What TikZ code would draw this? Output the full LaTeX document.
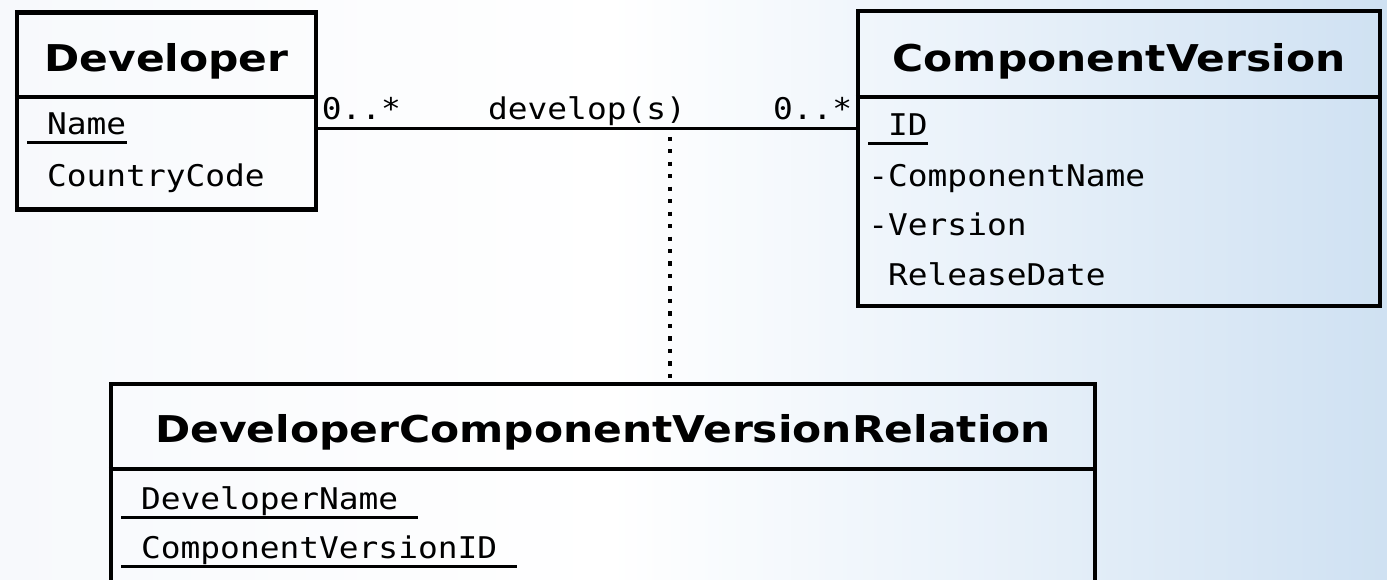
\documentclass[tikz,border=0pt]{standalone}
\usepackage{fontspec}
\newfontfamily\umlmono[FakeStretch=1.1]{DejaVu Sans Mono}
\newfontfamily\umlsans[FakeStretch=1.15]{DejaVu Sans}
\usepackage{tikz}
\usetikzlibrary{positioning}
\usepackage{xcolor}
\definecolor{bgleft}{HTML}{F7F9FC}
\definecolor{bgmid}{HTML}{EAF2FA}
\definecolor{bgblue}{HTML}{CFE1F2}
\pgfdeclarehorizontalshading{bgshade}{100bp}{color(0bp)=(bgleft); color(25bp)=(bgleft); color(47bp)=(white); color(60bp)=(bgmid); color(75bp)=(bgblue); color(100bp)=(bgblue)}

\tikzset{
  umlbox/.style={draw, line width=2.4pt, inner sep=0pt},
  umlsep/.style={line width=2.4pt},
  classname/.style={font=\umlsans\bfseries\fontsize{21pt}{25pt}\selectfont, anchor=base, inner sep=0pt},
  attr/.style={font=\umlmono\fontsize{17pt}{20pt}\selectfont, anchor=base west, inner sep=0pt, text depth=4.2pt},
  keyattr/.style={attr, append after command={(\tikzlastnode.south west) edge[draw, line width=1.4pt] (\tikzlastnode.south east)}},
  role/.style={font=\umlmono\fontsize{17pt}{20pt}\selectfont, inner sep=0pt},
  assoc/.style={line width=2.2pt},
  assocclass/.style={line width=2.4pt, dash pattern=on 2.4pt off 4.7pt, dash phase=2.4pt},
}

\begin{document}
\begin{tikzpicture}[x=0.02cm, y=-0.02cm]
  \useasboundingbox (0,0) rectangle (1387,580);
  \clip (0,0) rectangle (1387,580);
  \shade[shading=bgshade] (0,0) rectangle (1387,580);

  \node[umlbox, minimum width=5.98cm, minimum height=3.94cm] (dev) at (166.5,111) {};
  \draw[umlsep] (dev.west |- 0,97) -- (dev.east |- 0,97);
  \node[classname] (devname) at (166.5,72) {Developer};
  \node[keyattr] (devkey) at (27,135) {\phantom{x}Name};
  \node[attr] (devcc) at (27,187) {\phantom{x}CountryCode};

  \node[umlbox, minimum width=10.44cm, minimum height=5.9cm] (cv) at (1119,158.5) {};
  \draw[umlsep] (cv.west |- 0,97) -- (cv.east |- 0,97);
  \node[classname] (cvname) at (1119,72) {ComponentVersion};
  \node[keyattr] (cvkey) at (868,136) {\phantom{x}ID};
  \node[attr] (cvcomp) at (868,187) {-ComponentName};
  \node[attr] (cvver) at (868,236) {-Version};
  \node[attr] (cvdate) at (868,286) {\phantom{x}ReleaseDate};

  \node[umlbox, minimum width=19.68cm, minimum height=4.72cm] (rel) at (603,502) {};
  \draw[umlsep] (rel.west |- 0,469) -- (rel.east |- 0,469);
  \node[classname] (relname) at (603,443) {DeveloperComponentVersionRelation};
  \node[keyattr] (reldev) at (121,510) {\phantom{x}DeveloperName\phantom{x}};
  \node[keyattr] (relcv) at (121,559) {\phantom{x}ComponentVersionID\phantom{x}};

  \coordinate (ln) at (600,128.5);
  \draw[assoc] (dev.east |- ln) -- (cv.west |- ln)
    node[pos=0, role, anchor=base west, xshift=1pt, yshift=5.4pt] (devmult) {0..*}
    node[midway, role, anchor=base, yshift=5.4pt] (relrole) {develop(s)}
    node[pos=1, role, anchor=base east, xshift=-1pt, yshift=5.4pt] (cvmult) {0..*};

  \coordinate (link) at (670,128.5);
  \draw[assocclass] (link) -- (link |- rel.north);
\end{tikzpicture}
\end{document}
